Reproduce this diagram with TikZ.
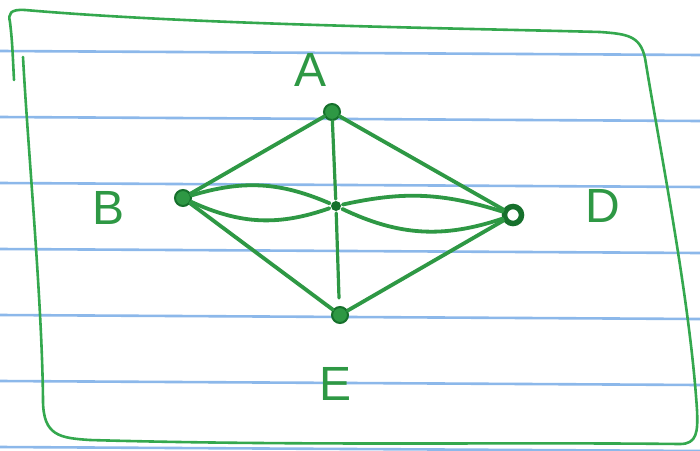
\documentclass[tikz,border=0pt]{standalone}
\usepackage{fontspec}
\setmainfont{Liberation Sans}
\definecolor{pen}{RGB}{46,152,68}
\definecolor{pendark}{RGB}{22,112,44}
\definecolor{framepen}{RGB}{52,168,78}
\definecolor{ruleblue}{RGB}{140,184,234}
\begin{document}
\begin{tikzpicture}[x=1pt,y=-1pt,line width=3.8pt,
  vertex/.style={circle,fill=pen,draw=pendark,line width=2pt,inner sep=0pt,minimum size=16pt},
  ringvertex/.style={circle,fill=white,draw=pendark,line width=5.5pt,inner sep=0pt,minimum size=17pt},
  hub/.style={circle,fill=pendark,inner sep=0pt,minimum size=10pt},
  edge/.style={draw=pen,line cap=round},
  lbl/.style={text=pen,font=\fontsize{48}{48}\selectfont,inner sep=0pt}]
  \useasboundingbox (0,0) rectangle (700,450);
  \fill[white] (0,0) rectangle (700,450);
  % ruled paper
  \foreach \y in {51,117,183,249,315,381,447}
    \draw[ruleblue,line width=2.6pt] (0,\y) -- (700,\y+4);
  % hand drawn frame
  \draw[framepen,line width=2.6pt,line cap=round,line join=round]
    (23,57) .. controls (28,150) and (42,300) .. (43,400)
    .. controls (43,436) and (60,438) .. (90,440)
    .. controls (300,446) and (500,442) .. (680,444)
    .. controls (697,444) and (698,432) .. (697,410)
    .. controls (690,300) and (660,150) .. (645,58)
    .. controls (640,36) and (628,34) .. (600,32)
    .. controls (450,28) and (200,25) .. (25,10)
    .. controls (10,9) and (8,14) .. (10,22)
    .. controls (12,40) .. (14,80);
  % vertices
  \node[vertex] (A) at (332,112) {};
  \node[vertex] (B) at (183,198) {};
  \node[hub] (C) at (336,206) {};
  \node[ringvertex] (D) at (513,215) {};
  \node[vertex] (E) at (340,315) {};
  \coordinate (Ctail) at (339,298);
  % labels
  \node[lbl] (lA) at (311,70) {A};
  \node[lbl] (lB) at (109,208) {B};
  \node[lbl] (lD) at (603,206) {D};
  \node[lbl] (lE) at (336,384) {E};
  % edges
  \draw[edge] (A) -- (B);
  \draw[edge] (A) -- (D);
  \draw[edge] (B) -- (E);
  \draw[edge] (D) -- (E);
  \draw[edge,line width=3.2pt] (A) -- (C) -- (Ctail);
  \draw[edge] (B) to[bend left=20] (C);
  \draw[edge] (B) to[bend right=22] (C);
  \draw[edge] (C) to[bend left=15] (D);
  \draw[edge] (C) to[bend right=22] (D);
\end{tikzpicture}
\end{document}
